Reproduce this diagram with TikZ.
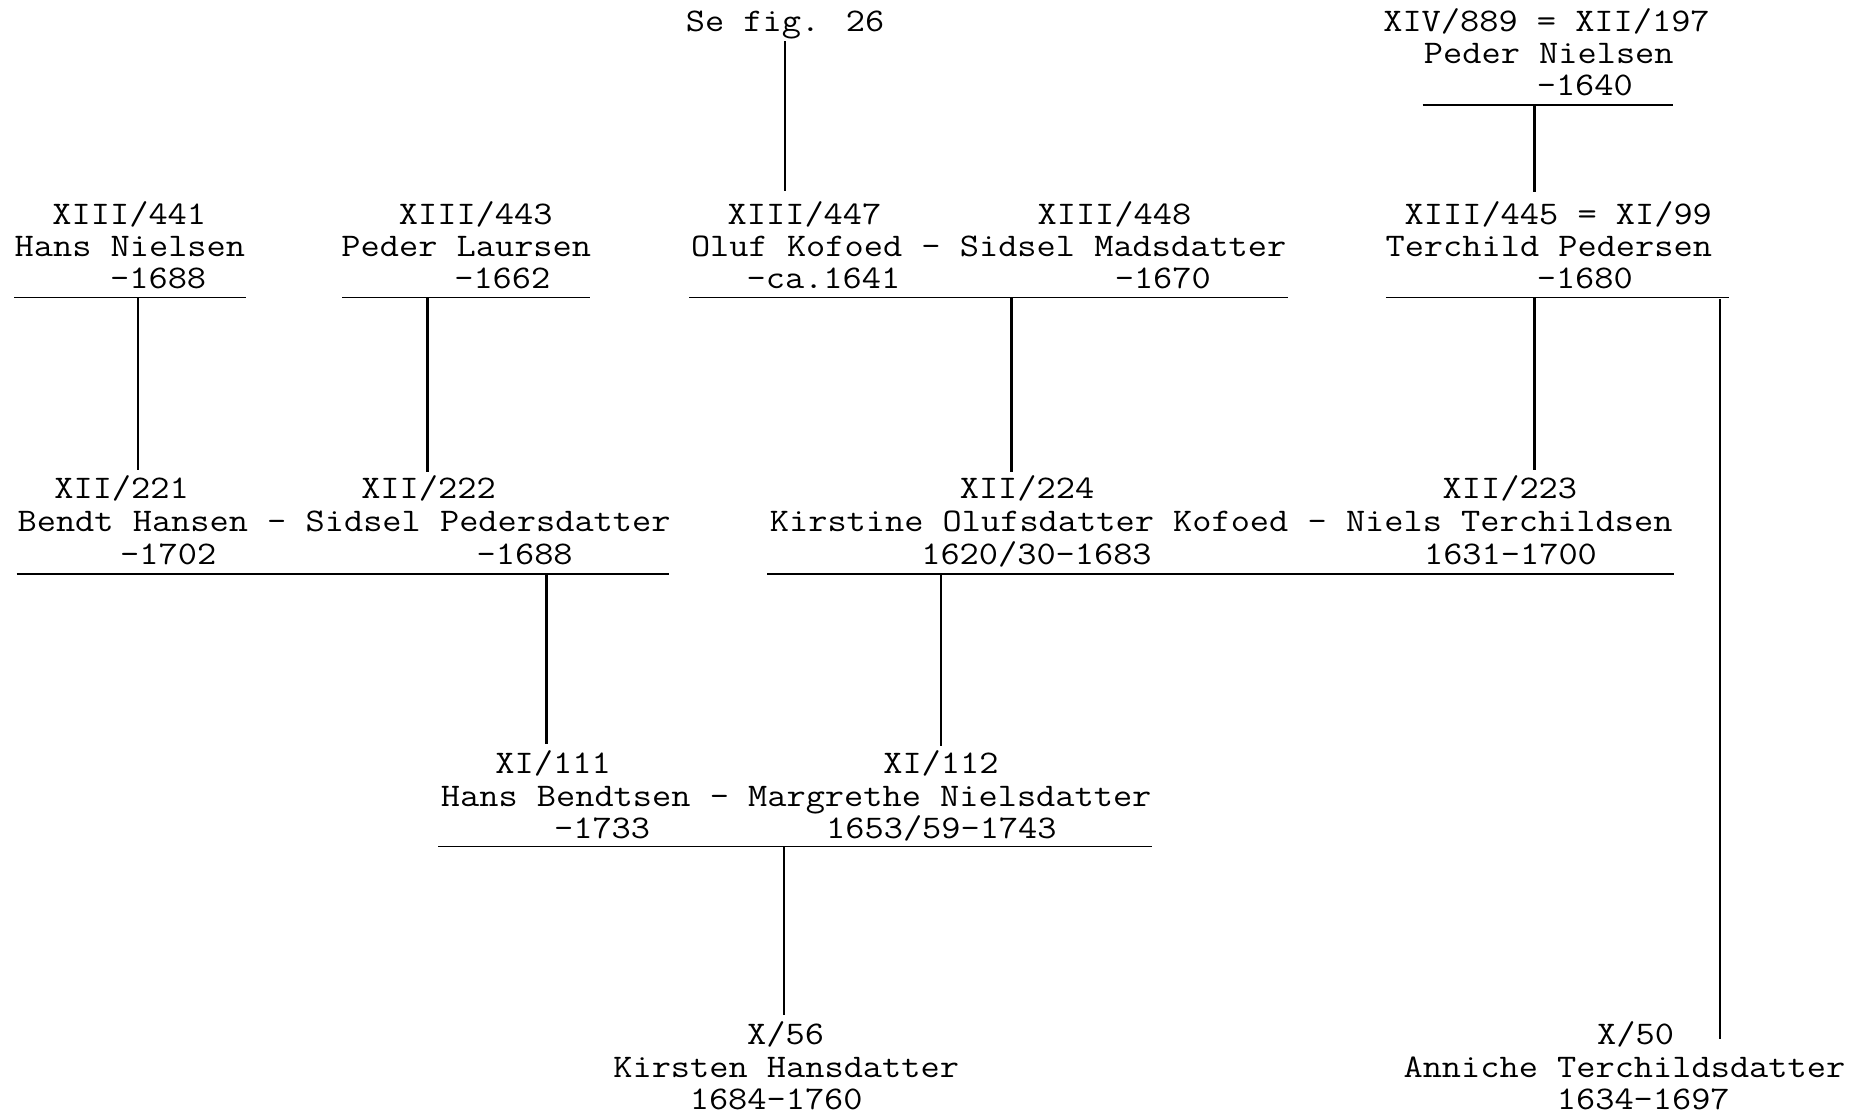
\documentclass[tikz,border=0pt]{standalone}
\usepackage{fontspec}
\newfontfamily\tymono[FakeStretch=1.13]{Latin Modern Mono}
\begin{document}
\begin{tikzpicture}[x=1pt,y=-1pt,
  txt/.style={anchor=base,inner sep=0pt,font=\tymono\fontsize{33pt}{32pt}\selectfont},
  hline/.style={line width=1.8pt},
  vline/.style={line width=2.6pt}]
\fill[white] (0,0) rectangle (1851,1118);
\useasboundingbox (0,0) rectangle (1851,1118);
% ---------- row 0
\node[txt] (sefig) at (785.0,31.9) {Se fig. 26};
\node[txt] (pn1) at (1546.5,31.9) {XIV/889 = XII/197};
\node[txt] (pn2) at (1548.8,63.7) {Peder Nielsen};
\node[txt] (pn3) at (1584.8,95.6) {-1640};
\coordinate (l0a) at (1422.5,105.1);
\coordinate (l0b) at (1672.8,105.1);
\coordinate (l0m) at (1534.7,105.1);
\coordinate (sefigb) at (785.0,41.3);
% ---------- row 1
\node[txt] (hn1) at (129.3,224.3) {XIII/441};
\node[txt] (hn2) at (129.9,256.2) {Hans Nielsen};
\node[txt] (hn3) at (158.2,288.0) {-1688};
\node[txt] (pl1) at (475.7,224.3) {XIII/443};
\node[txt] (pl2) at (466.3,256.2) {Peder Laursen};
\node[txt] (pl3) at (502.3,288.0) {-1662};
\node[txt] (ok1) at (804.5,224.3) {XIII/447};
\node[txt] (ok2) at (988.7,256.2) {Oluf Kofoed - Sidsel Madsdatter};
\node[txt] (ok3) at (823.4,288.0) {-ca.1641};
\node[txt] (sm1) at (1114.4,224.3) {XIII/448};
\node[txt] (sm3) at (1162.8,288.0) {-1670};
\node[txt] (tp1) at (1558.3,224.3) {XIII/445 = XI/99};
\node[txt] (tp2) at (1548.8,256.2) {Terchild Pedersen};
\node[txt] (tp3) at (1584.8,288.0) {-1680};
\coordinate (okt) at (785.0,191.2);
\coordinate (tpt) at (1534.7,192.4);
\coordinate (l1aa) at (14.2,297.5);   \coordinate (l1ab) at (245.5,297.5);  \coordinate (l1am) at (138.1,297.5);
\coordinate (l1ba) at (342.3,297.5);  \coordinate (l1bb) at (590.3,297.5);  \coordinate (l1bm) at (427.3,297.5);
\coordinate (l1ca) at (689.4,297.5);  \coordinate (l1cb) at (1287.9,297.5); \coordinate (l1cm) at (1011.7,297.5);
\coordinate (l1da) at (1385.9,297.5); \coordinate (l1db) at (1729.4,297.5); \coordinate (l1dm) at (1534.7,297.5);
\coordinate (l1dr) at (1720.0,299.0);
% ---------- row 2
\node[txt] (bh1) at (121.6,498.2) {XII/221};
\node[txt] (bh2) at (344.1,531.2) {Bendt Hansen - Sidsel Pedersdatter};
\node[txt] (bh3) at (168.2,564.3) {-1702};
\node[txt] (sp1) at (428.5,498.2) {XII/222};
\node[txt] (sp3) at (524.7,564.3) {-1688};
\node[txt] (ko1) at (1027.0,498.2) {XII/224};
\node[txt] (ko2) at (1221.2,531.2) {Kirstine Olufsdatter Kofoed - Niels Terchildsen};
\node[txt] (ko3) at (1036.5,564.3) {1620/30-1683};
\node[txt] (nt1) at (1509.9,498.2) {XII/223};
\node[txt] (nt3) at (1510.5,564.3) {1631-1700};
\coordinate (bht) at (138.1,469.8);
\coordinate (spt) at (427.3,472.2);
\coordinate (kot) at (1011.7,472.2);
\coordinate (ntt) at (1534.7,469.8);
\coordinate (l2aa) at (16.5,573.7);  \coordinate (l2ab) at (669.3,573.7);  \coordinate (l2am) at (546.6,573.7);
\coordinate (l2ba) at (767.3,573.7); \coordinate (l2bb) at (1674.0,573.7); \coordinate (l2bm) at (940.9,573.7);
% ---------- row 3
\node[txt] (hb1) at (553.1,773.2) {XI/111};
\node[txt] (hb2) at (796.2,806.3) {Hans Bendtsen - Margrethe Nielsdatter};
\node[txt] (hb3) at (602.1,838.2) {-1733};
\node[txt] (mn1) at (940.9,773.2) {XI/112};
\node[txt] (mn3) at (941.4,838.2) {1653/59-1743};
\coordinate (hbt) at (546.6,743.7);
\coordinate (mnt) at (940.9,746.1);
\coordinate (l3a) at (438.0,846.4); \coordinate (l3b) at (1152.2,846.4); \coordinate (l3m) at (783.9,846.4);
% ---------- row 4
\node[txt] (kh1) at (785.6,1044.7) {X/56};
\node[txt] (kh2) at (786.2,1077.8) {Kirsten Hansdatter};
\node[txt] (kh3) at (776.2,1109.7) {1684-1760};
\node[txt] (at1) at (1635.6,1044.7) {X/50};
\node[txt] (at2) at (1624.4,1077.8) {Anniche Terchildsdatter};
\node[txt] (at3) at (1643.3,1109.7) {1634-1697};
\coordinate (kht) at (783.9,1015.2);
\coordinate (att) at (1720.0,1038.8);
% ---------- lines
\draw[hline] (l0a) -- (l0b);
\draw[hline] (l1aa) -- (l1ab);
\draw[hline] (l1ba) -- (l1bb);
\draw[hline] (l1ca) -- (l1cb);
\draw[hline] (l1da) -- (l1db);
\draw[hline] (l2aa) -- (l2ab);
\draw[hline] (l2ba) -- (l2bb);
\draw[hline] (l3a) -- (l3b);
\draw[vline] (sefigb) -- (okt);
\draw[vline] (l0m) -- (tpt);
\draw[vline] (l1am) -- (bht);
\draw[vline] (l1bm) -- (spt);
\draw[vline] (l1cm) -- (kot);
\draw[vline] (l1dm) -- (ntt);
\draw[vline] (l1dr) -- (att);
\draw[vline] (l2am) -- (hbt);
\draw[vline] (l2bm) -- (mnt);
\draw[vline] (l3m) -- (kht);
\end{tikzpicture}
\end{document}
